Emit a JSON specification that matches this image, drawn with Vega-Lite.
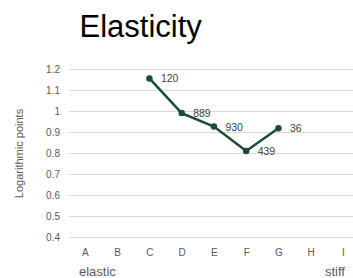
{
  "$schema": "https://vega.github.io/schema/vega-lite/v6.json",
  "width": 284.5,
  "height": 168,
  "autosize": {"type": "none"},
  "padding": {"left": 68.5, "top": 69, "right": 0, "bottom": 41},
  "background": "white",
  "title": {
    "text": "Elasticity",
    "anchor": "start",
    "frame": "group",
    "dx": 11,
    "dy": 35,
    "baseline": "alphabetic",
    "offset": 30.7,
    "fontSize": 31,
    "font": "Liberation Sans",
    "fontWeight": "normal",
    "color": "#000000"
  },
  "datasets": {
    "points": [
      {"cat": "C", "value": 1.155, "label": "120"},
      {"cat": "D", "value": 0.99, "label": "889"},
      {"cat": "E", "value": 0.926, "label": "930"},
      {"cat": "F", "value": 0.81, "label": "439"},
      {"cat": "G", "value": 0.918, "label": "36"}
    ],
    "notesLeft": [{"cat": "A", "note": "elastic", "value": 0.4}],
    "notesRight": [{"cat": "I", "note": "stiff", "value": 0.4}]
  },
  "encoding": {
    "x": {
      "field": "cat",
      "type": "nominal",
      "scale": {
        "type": "point",
        "domain": ["A", "B", "C", "D", "E", "F", "G", "H", "I"],
        "padding": 0.411,
        "align": 0.62
      },
      "axis": {
        "title": null,
        "labelAngle": 0,
        "labelPadding": 10,
        "labelFontSize": 10,
        "labelColor": "#595959",
        "labelFont": "Liberation Sans",
        "grid": false,
        "domain": false,
        "ticks": false
      }
    },
    "y": {
      "field": "value",
      "type": "quantitative",
      "scale": {"domain": [0.4, 1.2], "nice": false, "zero": false},
      "axis": {
        "title": "Logarithmic points",
        "titleFont": "Liberation Sans",
        "titleFontSize": 11,
        "titleFontWeight": "normal",
        "titleColor": "#595959",
        "titlePadding": 21,
        "values": [0.4, 0.5, 0.6, 0.7, 0.8, 0.9, 1, 1.1, 1.2],
        "format": ".1~f",
        "labelFont": "Liberation Sans",
        "labelFontSize": 10,
        "labelColor": "#595959",
        "labelPadding": 9,
        "labelOverlap": false,
        "grid": true,
        "gridColor": "#d9d9d9",
        "gridWidth": 1,
        "domain": false,
        "ticks": false
      }
    }
  },
  "layer": [
    {
      "data": {"name": "points"},
      "mark": {"type": "line", "color": "#1a4c38", "strokeWidth": 2.5}
    },
    {
      "data": {"name": "points"},
      "mark": {"type": "circle", "color": "#1a4c38", "opacity": 1, "size": 42}
    },
    {
      "data": {"name": "points"},
      "mark": {"type": "text", "align": "left", "baseline": "middle", "dx": 11.5, "dy": 1, "fontSize": 10.5, "font": "Liberation Sans", "color": "#404040"},
      "encoding": {"text": {"field": "label"}}
    },
    {
      "data": {"name": "notesLeft"},
      "mark": {"type": "text", "align": "left", "baseline": "alphabetic", "dx": -6, "dy": 38.5, "fontSize": 13, "font": "Liberation Sans", "color": "#595959", "clip": false},
      "encoding": {"text": {"field": "note"}}
    },
    {
      "data": {"name": "notesRight"},
      "mark": {"type": "text", "align": "right", "baseline": "alphabetic", "dx": 2, "dy": 38.5, "fontSize": 13, "font": "Liberation Sans", "color": "#595959", "clip": false},
      "encoding": {"text": {"field": "note"}}
    }
  ],
  "config": {"view": {"stroke": null}}
}
